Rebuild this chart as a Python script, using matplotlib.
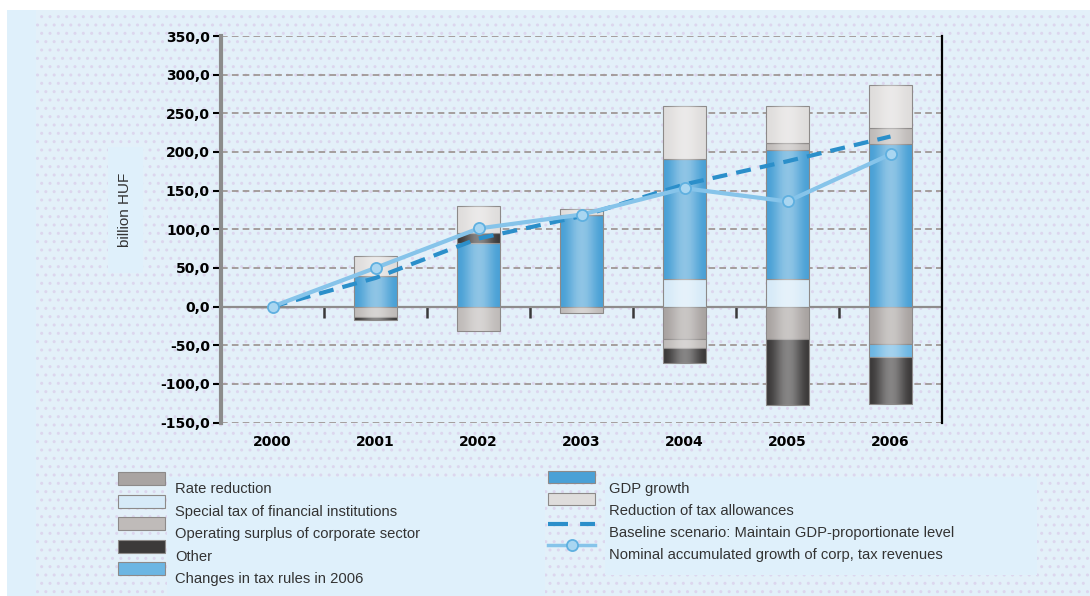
import numpy as np
import matplotlib
matplotlib.use("Agg")
import matplotlib.pyplot as plt
from matplotlib.patches import Rectangle
from matplotlib.lines import Line2D
from matplotlib.ticker import FuncFormatter, FixedLocator

# data (billion HUF)
years = ["2000", "2001", "2002", "2003", "2004", "2005", "2006"]
special_tax = [0, 0, 0, 0, 35, 35, 0]
gdp_growth = [0, 40, 82, 119, 156, 168, 210]
rate_reduction = [0, 0, 0, 0, -42, -42, -48]
operating_surplus = [0, -13, -32, -8, -11, 9, 21]
tax_rules_2006 = [0, 0, 0, 0, 0, 0, -17]
other = [0, -4, 13, 0, -20, -85, -61]
allowances = [0, 26, 35, 7, 68, 47, 55]
baseline = [0, 37, 88, 117, 158, 188, 220]
nominal = [0, 50, 101, 119, 153, 136, 197]

W, H = 1090, 596
LEG_FONT = ["Liberation Sans", "DejaVu Sans"]
LEG_SIZE = 10.6

c_rate = "#a9a4a2"
c_special = "#d6eaf8"
c_oper = "#bfbbb9"
c_other = "#3c3a3a"
c_rules = "#6cb6e3"
c_gdp = "#4aa1d6"
c_allow = "#dfdddc"
c_base = "#2b8fca"
c_nom = "#86c4ea"


def fx(x):
    return x / W


def fy(y):
    return 1 - y / H


fig = plt.figure(figsize=(10.9, 5.96), dpi=100)
fig.patch.set_facecolor("white")

# page background: solid strip on the left, dotted area, lighter boxes
fig.patches.append(Rectangle((fx(7), 0), 1 - fx(7), fy(10), transform=fig.transFigure,
                             facecolor="#dff0fb", edgecolor="none", zorder=-20))
fig.patches.append(Rectangle((fx(36), 0), 1 - fx(36), fy(10), transform=fig.transFigure,
                             facecolor="#e3f0f9", edgecolor="#dcd6ee", linewidth=0,
                             hatch="..", zorder=-19))
for x0, y0, x1, y1 in [(167, 477, 545, 596), (605, 477, 1037, 575), (108, 147, 143, 273)]:
    fig.patches.append(Rectangle((fx(x0), fy(y1)), fx(x1) - fx(x0), fy(y0) - fy(y1),
                                 transform=fig.transFigure, facecolor="#dff0fb",
                                 edgecolor="none", zorder=-18))

ax = fig.add_axes([fx(221), fy(422.5), fx(942) - fx(221), fy(36) - fy(422.5)])
ax.set_facecolor("none")

x = np.arange(len(years))
width = 0.42
segments = [
    (special_tax, c_special),
    (gdp_growth, c_gdp),
    (rate_reduction, c_rate),
    (operating_surplus, c_oper),
    (tax_rules_2006, c_rules),
    (other, c_other),
    (allowances, c_allow),
]

grad = np.ones((1, 60, 4))
t = np.linspace(0, 1, 60)
grad[0, :, 3] = 0.38 * np.sin(np.pi * t) ** 2

pos_bottom = np.zeros(len(years))
neg_bottom = np.zeros(len(years))
for vals, col in segments:
    vals = np.array(vals, dtype=float)
    bottom = np.where(vals >= 0, pos_bottom, neg_bottom)
    bars = ax.bar(x, vals, width, bottom=bottom, color=col, edgecolor="#8d8a89",
                  linewidth=0.8, zorder=2)
    for p in bars:
        if p.get_height() == 0:
            continue
        bx, by = p.get_x(), p.get_y()
        im = ax.imshow(grad, extent=[bx, bx + p.get_width(), by, by + p.get_height()],
                       aspect="auto", zorder=2.1, interpolation="bilinear")
        im.set_clip_path(p)
    pos_bottom = pos_bottom + np.where(vals > 0, vals, 0)
    neg_bottom = neg_bottom + np.where(vals < 0, vals, 0)

ax.plot(x, baseline, color=c_base, linewidth=3, dashes=(3.6, 2.2), zorder=4)
ax.plot(x, nominal, color=c_nom, linewidth=3, marker="o", markersize=8,
        markerfacecolor="#a9d6f1", markeredgecolor="#5fb0e0", markeredgewidth=1.3, zorder=5)

ax.set_xlim(-0.5, 6.5)
ax.set_ylim(-150, 350)

# y axis
ax.yaxis.set_major_locator(FixedLocator(np.arange(-150, 351, 50)))
ax.yaxis.set_major_formatter(FuncFormatter(lambda v, p: f"{v:.1f}".replace(".", ",")))
ax.tick_params(axis="y", direction="out", length=6, width=1.5, color="black", pad=2,
               labelsize=10)
for lab in ax.get_yticklabels():
    lab.set_fontweight("bold")
ax.yaxis.grid(True, color="#9a918d", linewidth=1.2, linestyle=(0, (4, 2.5)), zorder=0)
ax.set_axisbelow(True)
ax.axhline(0, color="#8e8c8c", linewidth=1.6, zorder=1.5)

# x axis labels at the bottom
ax.set_xticks(x)
ax.set_xticklabels(years, fontweight="bold", fontsize=10)
ax.tick_params(axis="x", length=0, pad=9)

# small ticks on the zero line between categories
sec = ax.secondary_xaxis(0.3)
sec.set_xticks(np.arange(0.5, 6, 1))
sec.set_xticklabels([])
sec.tick_params(axis="x", direction="out", length=8, width=1.8, color="#3a3a3a")
sec.spines["bottom"].set_visible(False)

ax.spines["top"].set_visible(False)
ax.spines["bottom"].set_visible(False)
ax.spines["left"].set_color("#8c8c8c")
ax.spines["left"].set_linewidth(3)
ax.spines["right"].set_color("black")
ax.spines["right"].set_linewidth(1.6)

fig.text(fx(125), fy(210), "billion HUF", rotation=90, ha="center", va="center",
         fontsize=11, color="#333333", family=LEG_FONT)

# legend, drawn by hand
left_items = [("Rate reduction", c_rate), ("Special tax of financial institutions", c_special),
              ("Operating surplus of corporate sector", c_oper), ("Other", c_other),
              ("Changes in tax rules in 2006", c_rules)]
for i, (lab, col) in enumerate(left_items):
    top = 472 + i * 22.6
    fig.patches.append(Rectangle((fx(118), fy(top + 13)), fx(47), 13 / H,
                                 transform=fig.transFigure, facecolor=col,
                                 edgecolor="#8d8a89", linewidth=0.8))
    fig.text(fx(175), fy(top + 17), lab, ha="left", va="center", fontsize=LEG_SIZE,
             color="#333333", family=LEG_FONT)

right_items = [("GDP growth", c_gdp), ("Reduction of tax allowances", c_allow)]
for i, (lab, col) in enumerate(right_items):
    top = 471 + i * 22.4
    fig.patches.append(Rectangle((fx(548), fy(top + 12)), fx(47), 12 / H,
                                 transform=fig.transFigure, facecolor=col,
                                 edgecolor="#8d8a89", linewidth=0.8))
    fig.text(fx(609), fy(top + 18), lab, ha="left", va="center", fontsize=LEG_SIZE,
             color="#333333", family=LEG_FONT)

fig.lines.append(Line2D([fx(548), fx(595)], [fy(524), fy(524)], transform=fig.transFigure,
                        color=c_base, linewidth=3, dashes=(4.8, 2.9)))
fig.text(fx(609), fy(533), "Baseline scenario: Maintain GDP-proportionate level", ha="left",
         va="center", fontsize=LEG_SIZE, color="#333333", family=LEG_FONT)
fig.lines.append(Line2D([fx(548), fx(595)], [fy(545), fy(545)], transform=fig.transFigure,
                        color=c_nom, linewidth=2.5))
fig.lines.append(Line2D([fx(572)], [fy(545)], transform=fig.transFigure, marker="o",
                        markersize=8, markerfacecolor="#a9d6f1", markeredgecolor="#5fb0e0",
                        markeredgewidth=1.3, linestyle="none"))
fig.text(fx(609), fy(555), "Nominal accumulated growth of corp, tax revenues", ha="left",
         va="center", fontsize=LEG_SIZE, color="#333333", family=LEG_FONT)

fig.savefig("out.png", dpi=100)
